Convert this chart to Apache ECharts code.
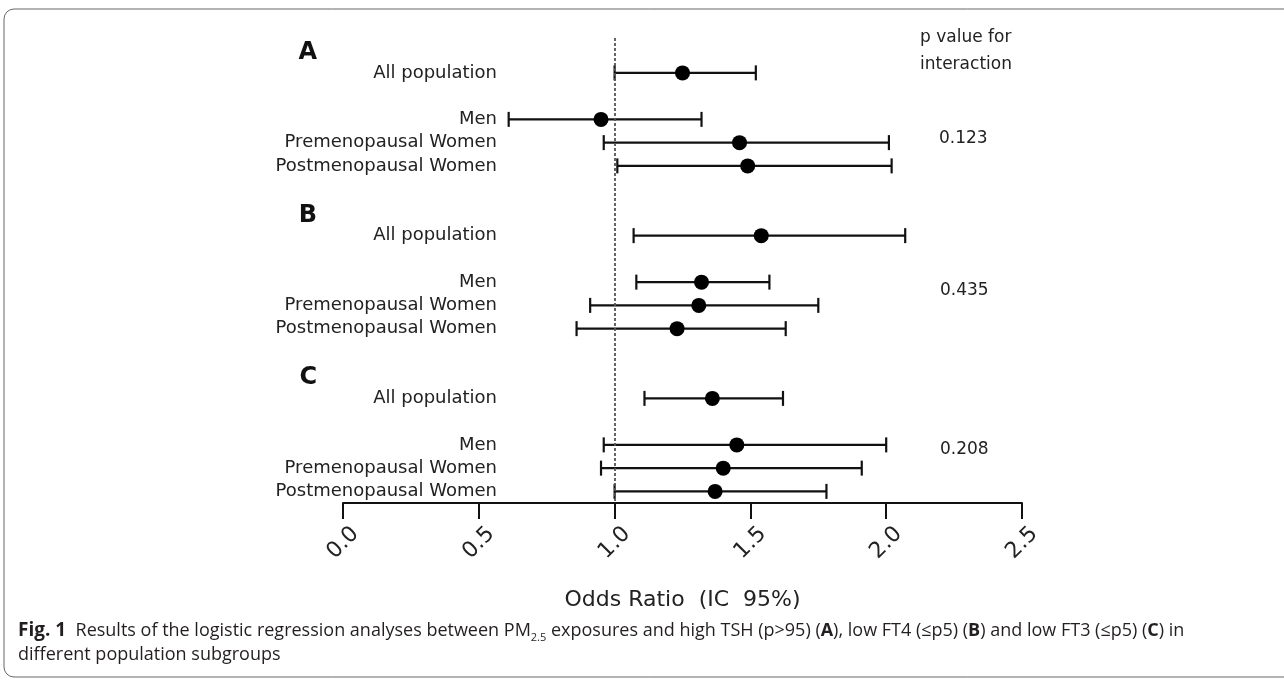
<!DOCTYPE html>
<html>
<head>
<meta charset="utf-8">
<script src="https://cdn.jsdelivr.net/npm/echarts@6/dist/echarts.min.js"></script>
<style>
  html, body { margin: 0; padding: 0; background: #fff; }
  #chart { width: 1284px; height: 680px; }
</style>
</head>
<body>
<div id="chart"></div>
<script>
// panels and subgroups
const panels = ["A", "B", "C"];
const subgroups = ["All population", "Men", "Premenopausal Women", "Postmenopausal Women"];

// odds ratio and 95% CI per panel, in subgroup order
const oddsA = [1.25, 0.95, 1.46, 1.49];
const lowA = [1.00, 0.61, 0.96, 1.01];
const upA = [1.52, 1.32, 2.01, 2.02];

const oddsB = [1.54, 1.32, 1.31, 1.23];
const lowB = [1.07, 1.08, 0.91, 0.86];
const upB = [2.07, 1.57, 1.75, 1.63];

const oddsC = [1.36, 1.45, 1.40, 1.37];
const lowC = [1.11, 0.96, 0.95, 1.00];
const upC = [1.62, 2.00, 1.91, 1.78];

const pValues = ["0.123", "0.435", "0.208"];
const xMin = 0, xMax = 2.5, xStep = 0.5;
const refLine = 1.0;

const FONT = "DejaVu Sans";
const CAP_FONT = "'Open Sans', 'Noto Sans', sans-serif";

// rows of the y axis: letter, All population, gap, Men, Pre, Post, gap
const rows = [];
const points = [];
const bars = [];
const odds = [oddsA, oddsB, oddsC];
const lows = [lowA, lowB, lowC];
const ups = [upA, upB, upC];
panels.forEach(function (p, k) {
  rows.push(p);
  subgroups.forEach(function (s, j) {
    if (j === 1) rows.push("");
    const idx = rows.length;
    rows.push(s);
    points.push([odds[k][j], idx]);
    bars.push([lows[k][j], ups[k][j], idx]);
  });
  if (k < panels.length - 1) rows.push("");
});

const chart = echarts.init(document.getElementById("chart"));

const option = {
  animation: false,
  grid: { left: 343, right: 262, top: 38, bottom: 177 },
  xAxis: {
    type: "value",
    min: xMin,
    max: xMax,
    interval: xStep,
    splitLine: { show: false },
    axisLine: { show: true, lineStyle: { color: "#111", width: 2 } },
    axisTick: { show: true, length: 16, lineStyle: { color: "#111", width: 2 } },
    axisLabel: {
      rotate: 45,
      align: "center",
      verticalAlign: "middle",
      margin: 40,
      fontSize: 22,
      fontFamily: FONT,
      color: "#222",
      formatter: function (v) { return v.toFixed(1); }
    },
    name: "Odds Ratio  (IC  95%)",
    nameLocation: "middle",
    nameGap: 86,
    nameTextStyle: { fontSize: 22, fontFamily: FONT, color: "#222" }
  },
  yAxis: {
    type: "category",
    inverse: true,
    data: rows,
    offset: -154,
    axisLine: { show: false },
    axisTick: { show: false },
    splitLine: { show: false },
    axisLabel: {
      interval: 0,
      margin: 0,
      fontSize: 18,
      fontFamily: FONT,
      color: "#222",
      formatter: function (v) {
        return panels.indexOf(v) >= 0 ? "{p|" + v + "}" : v;
      },
      rich: {
        p: { fontSize: 24, fontWeight: "bold", fontFamily: FONT, color: "#111", padding: [6, 180, 0, 0] }
      }
    }
  },
  series: [
    {
      type: "custom",
      data: bars,
      silent: true,
      renderItem: function (params, api) {
        const a = api.coord([api.value(0), api.value(2)]);
        const b = api.coord([api.value(1), api.value(2)]);
        const h = 7.5;
        const st = { stroke: "#111", lineWidth: 2.2 };
        return {
          type: "group",
          children: [
            { type: "line", shape: { x1: a[0], y1: a[1], x2: b[0], y2: b[1] }, style: st },
            { type: "line", shape: { x1: a[0], y1: a[1] - h, x2: a[0], y2: a[1] + h }, style: st },
            { type: "line", shape: { x1: b[0], y1: b[1] - h, x2: b[0], y2: b[1] + h }, style: st }
          ]
        };
      },
      z: 2
    },
    {
      type: "scatter",
      data: points,
      symbol: "circle",
      symbolSize: 15,
      itemStyle: { color: "#000", opacity: 1 },
      z: 3,
      markLine: {
        silent: true,
        symbol: "none",
        label: { show: false },
        lineStyle: { color: "#555", width: 1.8, type: [3, 2] },
        data: [{ xAxis: refLine }]
      }
    }
  ],
  graphic: [
    {
      type: "rect",
      shape: { x: 4, y: 9, width: 1300, height: 668, r: 10 },
      style: { fill: "none", stroke: "#666", lineWidth: 1 },
      silent: true
    },
    {
      type: "text", left: 920, top: 24,
      style: { text: "p value for\ninteraction", font: "17px " + FONT, fill: "#222", lineHeight: 27 }
    },
    { type: "text", left: 939, top: 130, style: { text: pValues[0], font: "17px " + FONT, fill: "#222" } },
    { type: "text", left: 940, top: 282, style: { text: pValues[1], font: "17px " + FONT, fill: "#222" } },
    { type: "text", left: 940, top: 441, style: { text: pValues[2], font: "17px " + FONT, fill: "#222" } },
    {
      type: "text", left: 18, top: 619,
      style: {
        text: "{f|Fig. 1}  Results of the logistic regression analyses between PM{s|2.5} exposures and high TSH (p>95) ({b|A}), low FT4 (≤p5) ({b|B}) and low FT3 (≤p5) ({b|C}) in\ndifferent population subgroups",
        font: "18px " + CAP_FONT,
        fill: "#231f20",
        lineHeight: 24,
        rich: {
          f: { fontWeight: "bold", fontSize: 19, fontFamily: CAP_FONT, fill: "#231f20" },
          b: { fontWeight: "bold", fontSize: 18, fontFamily: CAP_FONT, fill: "#231f20" },
          s: { fontSize: 11, fontFamily: CAP_FONT, verticalAlign: "bottom", padding: [9, 0, 0, 0] }
        }
      }
    }
  ]
};

chart.setOption(option);
</script>
</body>
</html>
